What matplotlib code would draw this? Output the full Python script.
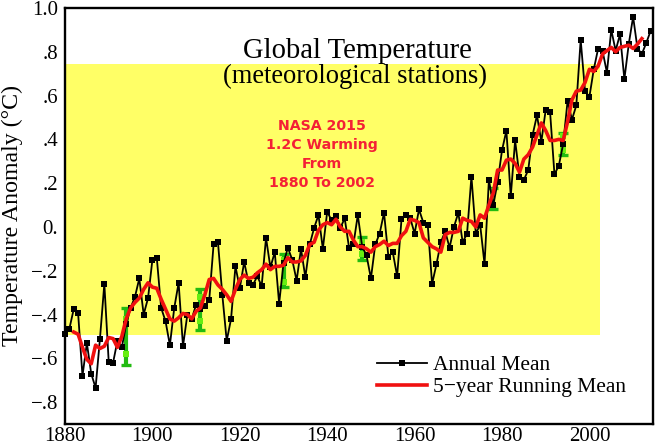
import numpy as np
import matplotlib
matplotlib.use("Agg")
import matplotlib.pyplot as plt

# annual mean, 1880-2014
annual = [-.49, -.465, -.375, -.395, -.68, -.53, -.67, -.735, -.51, -.26,
          -.615, -.62, -.52, -.55, -.445, -.37, -.32, -.235, -.40, -.325,
          -.15, -.14, -.37, -.43, -.54, -.37, -.255, -.545, -.40, -.42,
          -.355, -.375, -.36, -.335, -.08, -.07, -.31, -.52, -.42, -.18,
          -.28, -.16, -.255, -.265, -.225, -.27, -.05, -.185, -.115, -.35,
          -.165, -.095, -.15, -.245, -.10, -.23, -.08, -.005, .055, -.10,
          .07, .03, .05, -.005, .04, -.095, -.08, .055, -.09, -.13,
          -.235, -.08, -.03, .065, -.135, -.115, -.225, .035, .055, .04,
          -.03, .08, .02, .01, -.26, -.17, -.07, -.02, -.095, 0.0,
          .065, -.07, -.03, .23, -.03, .01, -.17, .215, .10, .205,
          .35, .44, .14, .395, .23, .215, .26, .42, .51, .39,
          .535, .525, .24, .28, .38, .575, .49, .555, .855, .62,
          .595, .72, .815, .805, .705, .90, .805, .88, .675, .835,
          .96, .815, .79, .84, .895]
annual_years = np.arange(1880, 1880 + len(annual))

# 5-year running mean, 1882-2012
running = [-.48, -.49, -.55, -.605, -.625, -.54, -.555, -.545, -.505, -.51,
           -.55, -.50, -.42, -.37, -.345, -.325, -.285, -.255, -.275, -.28,
           -.33, -.375, -.42, -.43, -.415, -.395, -.40, -.42, -.385, -.37,
           -.31, -.24, -.235, -.265, -.285, -.31, -.34, -.285, -.24, -.22,
           -.235, -.23, -.21, -.195, -.17, -.195, -.18, -.18, -.175, -.14,
           -.16, -.16, -.155, -.13, -.08, -.07, -.015, .01, .02, .01,
           .035, 0.0, -.02, -.02, -.06, -.09, -.09, -.10, -.115, -.09,
           -.08, -.065, -.085, -.075, -.075, -.04, -.02, .035, .03, .02,
           -.05, -.07, -.09, -.10, -.115, -.035, -.025, -.025, -.02, .04,
           .03, .025, 0.0, .055, .04, .10, .155, .26, .26, .305,
           .31, .29, .25, .31, .33, .365, .42, .475, .44, .395,
           .395, .40, .395, .48, .58, .62, .625, .66, .72, .71,
           .735, .79, .805, .82, .80, .82, .825, .83, .815, .835,
           .86]
running_years = np.arange(1882, 1882 + len(running))

# uncertainty bars
err_years = [1894, 1911, 1930, 1948, 1978, 1994]
err_top = [-.37, -.285, -.125, -.045, .18, .43]
err_bottom = [-.63, -.47, -.275, -.15, .08, .33]
inner_top = [-.42, -.32, -.15, -.07, .165, .415]
inner_bottom = [-.58, -.43, -.25, -.125, .10, .35]

xticks = [1880, 1900, 1920, 1940, 1960, 1980, 2000]
yticks = [-.8, -.6, -.4, -.2, 0, .2, .4, .6, .8, 1.0]
ylabels = ["\u2212.8", "\u2212.6", "\u2212.4", "\u2212.2", "0.", ".2", ".4", ".6", ".8", "1.0"]

W, H = 656, 446
plt.rcParams["font.family"] = ["Liberation Serif", "DejaVu Serif"]

fig = plt.figure(figsize=(W / 100, H / 100), dpi=100)
ax = fig.add_axes([65 / W, 1 - 424 / H, 588 / W, 416 / H])
ax.set_xlim(1880, 2014.55)
ax.set_ylim(-.9, 1.0)

# yellow box
ax.fill_between([1880, 2002.4], -.493, .744, color="#FFFF66", lw=0, zorder=1)

# green bars
ax.errorbar(err_years, err_top, yerr=[np.array(err_top) - np.array(err_bottom), np.zeros(6)],
            fmt="none", ecolor="#22BB11", elinewidth=3, capsize=0, zorder=2)
ax.plot(err_years, err_top, ls="none", marker="_", ms=6.5, mew=2.4, color="#22BB11", zorder=2)
ax.plot(err_years, err_bottom, ls="none", marker="_", ms=6.5, mew=2.4, color="#22BB11", zorder=2)
ax.plot(err_years, inner_top, ls="none", marker="s", ms=5, color="#66EE11", mew=0, zorder=2.5)
ax.plot(err_years, inner_bottom, ls="none", marker="s", ms=5, color="#66EE11", mew=0, zorder=2.5)

line1, = ax.plot(annual_years, annual, color="black", lw=1.3, marker="s", ms=3.8, mew=0,
                 label="Annual Mean", zorder=3, clip_on=False)
line2, = ax.plot(running_years, running, color="#F01010", lw=2.6, label="5\u2212year Running Mean", zorder=4)

for s in ax.spines.values():
    s.set_linewidth(1.7)
    s.set_zorder(5)

ax.set_xticks(xticks)
ax.set_yticks(yticks)
ax.set_yticklabels(ylabels)
ax.tick_params(length=0, labelsize=15)
ax.tick_params(axis="x", pad=2)
ax.tick_params(axis="y", pad=5)

fig.text(12 / W, 1 - 216 / H, "Temperature Anomaly (\u00b0C)", rotation=90, ha="center", va="center", fontsize=17.2)

fig.text(357 / W, 1 - 58 / H, "Global Temperature", ha="center", va="baseline", fontsize=20.6)
fig.text(355 / W, 1 - 83 / H, "(meteorological stations)", ha="center", va="baseline", fontsize=19.1)

for txt, yp in zip(["NASA 2015", "1.2C Warming", "From", "1880 To 2002"], [130, 149, 168, 187]):
    fig.text(322 / W, 1 - yp / H, txt, ha="center", va="baseline", color="#F42035",
             fontsize=10.2, fontweight="bold", family="DejaVu Sans")

ax.legend(handles=[line1, line2], frameon=False, fontsize=15.5, numpoints=1,
          handlelength=2.3, handletextpad=0.3, labelspacing=0.1, borderpad=0, borderaxespad=0,
          loc="upper left", bbox_to_anchor=(377 / W, 1 - 355 / H), bbox_transform=fig.transFigure)

fig.savefig("out.png", dpi=100)
